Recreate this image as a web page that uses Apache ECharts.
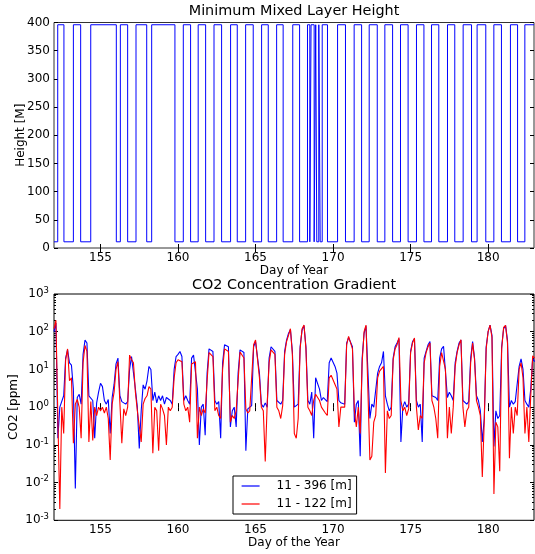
<!DOCTYPE html>
<html><head><meta charset="utf-8">
<script src="https://cdn.jsdelivr.net/npm/echarts@6/dist/echarts.min.js"></script>
<style>html,body{margin:0;padding:0;background:#fff}#c{width:535px;height:554px}</style>
</head><body><div id="c"></div><script>
// ---------- data ----------
const dayTicks = [155, 160, 165, 170, 175, 180];
const dayMin = 152, dayMax = 182.96;

// Minimum mixed layer height: day at which each level starts, and the level
const mlhDays = [152.0, 152.24, 152.64, 153.25, 153.72, 154.37, 156.02, 156.28, 156.75, 157.29,
  157.98, 158.3, 159.8, 160.34, 160.81, 161.3, 161.78, 162.32, 162.81, 163.39,
  163.82, 164.36, 164.85, 165.39, 165.82, 166.36, 166.78, 167.4, 167.84, 168.35,
  168.5, 168.58, 168.78, 168.88, 168.95, 169.08, 169.17, 169.3, 169.64, 170.29,
  170.8, 171.36, 171.84, 172.33, 172.85, 173.34, 173.84, 174.35, 174.84, 175.38,
  175.86, 176.35, 176.82, 177.38, 177.85, 178.39, 178.93, 179.29, 179.85, 180.37,
  180.86, 181.44, 181.9, 182.37, 182.96];
const mlhLevels = [11, 396, 11, 396, 11, 396, 11, 396, 11, 396,
  11, 396, 11, 396, 11, 396, 11, 396, 11, 396,
  11, 396, 11, 396, 11, 396, 11, 396, 11, 396,
  11, 396, 11, 396, 11, 396, 11, 396, 11, 396,
  11, 396, 11, 396, 11, 396, 11, 396, 11, 396,
  11, 396, 11, 396, 11, 396, 11, 396, 11, 396,
  11, 396, 11, 396, 396];

// CO2 concentration gradient, sampled every 3 hours from day 152
const co2Start = 152, co2Step = 0.125;
const co2Blue = [
  100,170,0.15,1.0,1.1,2.0,20,33,
  15,13,3,0.007,1.8,2.2,1.2,25,
  60,50,2,1.8,1.5,0.15,1.3,2.5,
  4.3,3.5,1.5,1.2,1.6,0.2,1.8,4,
  14,20,2,1.4,1.5,1.2,1.4,10,
  22,20,3,1.0,0.08,0.8,3.9,3,
  5,12,10,1.5,2.5,1.3,2.0,1.5,
  2.0,1.2,1.8,1.6,1.5,1.2,10,22,
  25,30,22,1.5,2,1.5,1.2,20,
  24,25,3,0.1,1.0,1.2,0.18,8,
  35,37,30,1.5,1.2,1.4,0.15,15,
  45,47,40,0.3,0.8,1.0,0.3,8,
  33,33,28,0.07,0.9,1.0,1.1,40,
  55,50,8,1.2,1.0,1.3,1.0,20,
  40,38,30,1.5,1.4,1.2,1.5,30,
  60,90,115,30,1.0,0.9,1.2,40,
  110,145,40,1.5,1.2,2.5,0.15,6,
  6.5,3,1.5,1.8,1.6,1.4,15,20,
  18,12,8,1.5,1.3,1.4,1.2,50,
  70,70,40,0.4,1.2,1.5,0.05,20,
  90,140,130,0.5,1.2,1.0,1.1,8,
  12,15,30,2,1.2,0.8,1.0,20,
  40,50,65,0.12,1.0,1.4,1.0,1.2,
  30,55,65,1.5,1.0,1.2,0.12,20,
  30,45,55,2,2.2,1.8,1.5,20,
  35,41,38,1.8,2.5,2.0,1.5,15,
  30,50,60,1.5,1.5,1.2,1.4,20,
  55,20,2,1.5,0.8,0.12,0.5,40,
  100,150,80,0.09,0.8,0.5,0.6,40,
  120,147,60,1.0,1.5,1.2,1.4,1.5,
  12,19,10,1.5,1.2,1.0,3,20,
  16];
const co2Red = [
  120,200,0.5,0.002,1.0,0.2,18,35,
  5,6,0.11,1.2,1.6,1.0,0.15,15,
  43,30,0.12,1.4,0.13,1.0,0.6,1.0,
  0.8,1.0,0.7,1.0,0.5,0.04,1.2,2.5,
  10,16,1.3,0.11,0.9,0.6,1.0,24,
  18,15,2.5,0.8,0.9,0.12,1.2,1.7,
  2,3.5,3,0.06,1.0,0.8,0.07,1.2,
  0.9,0.6,0.1,1.0,0.8,1.0,6,15,
  18,20,16,1.2,0.8,1.0,0.4,14,
  15,16,0.15,1.0,0.6,0.9,0.7,5,
  28,30,22,0.8,1.0,0.6,0.5,10,
  35,37,30,0.4,0.6,0.5,0.8,5,
  29,28,20,0.9,0.7,0.8,0.9,45,
  60,55,6,1.0,0.8,0.036,1.2,15,
  33,30,25,1.0,0.8,0.5,1.1,25,
  55,80,120,25,0.2,0.15,0.5,35,
  120,150,35,1.0,0.8,0.6,1.5,2.2,
  2,1.5,1.0,0.9,0.7,0.6,6,7,
  7,4,3,0.3,1.0,0.9,1.0,45,
  75,80,35,0.8,0.3,1.0,0.2,15,
  100,150,140,0.04,0.05,0.4,0.6,6,
  9,10,12,0.018,0.8,0.5,0.6,18,
  35,45,70,1.5,0.8,1.0,0.6,0.9,
  28,50,68,1.0,0.25,0.6,0.5,15,
  28,40,50,1.5,1.0,0.5,0.15,12,
  28,30,10,0.15,1.0,0.2,1.0,12,
  28,45,61,1.0,0.3,0.8,1.0,15,
  50,18,1.5,1.0,0.6,0.014,0.4,35,
  100,150,70,0.005,0.4,0.3,0.02,35,
  130,147,50,0.044,1.0,0.2,1.0,0.6,
  10,15,6,0.2,1.0,0.12,2,23,
  20];
const seriesNames = ['11 - 396 [m]', '11 - 122 [m]'];
const co2Min = 0.001, co2Max = 1000;

// ---------- chart ----------
const FONT = 'DejaVu Sans';
const txt = { fontFamily: FONT, fontSize: 12, color: '#000' };
const tickStyle = { show: true, inside: true, length: 4, lineStyle: { color: '#000', width: 1 } };

// minor tick positions on the log axis (in decades, for a helper linear axis)
const minorPos = [];
for (let e = Math.log10(co2Min); e < Math.log10(co2Max); e++) {
  for (let k = 2; k <= 9; k++) minorPos.push(e + Math.log10(k));
}

function xPair(gridIndex, name) {
  return [
    { type: 'value', gridIndex, min: dayMin, max: dayMax, position: 'bottom',
      axisLine: { show: false }, splitLine: { show: false },
      axisTick: Object.assign({ customValues: dayTicks }, tickStyle),
      axisLabel: Object.assign({ show: true, customValues: dayTicks, margin: 4 }, txt),
      name, nameLocation: 'middle', nameGap: 17, nameMoveOverlap: false, nameTextStyle: txt },
    { type: 'value', gridIndex, min: dayMin, max: dayMax, position: 'top',
      axisLine: { show: false }, splitLine: { show: false },
      axisTick: Object.assign({ customValues: dayTicks }, tickStyle),
      axisLabel: { show: false } }
  ];
}

const logLabel = v => '{b|10}{s|' + Math.round(Math.log10(v)) + '}';

const option = {
  animation: false,
  backgroundColor: '#fff',
  textStyle: { fontFamily: FONT },
  grid: [
    { left: 54, right: 1, top: 22.5, height: 225.5, show: true, borderColor: '#333', borderWidth: 1, backgroundColor: 'transparent' },
    { left: 54, right: 1, top: 294, height: 226.3, show: true, borderColor: '#000', borderWidth: 1, backgroundColor: 'transparent' }
  ],
  xAxis: [].concat(xPair(0, 'Day of Year'), xPair(1, 'Day of the Year')),
  yAxis: [
    { type: 'value', gridIndex: 0, min: 0, max: 400, interval: 50, position: 'left',
      axisLine: { show: false }, splitLine: { show: false }, axisTick: tickStyle,
      axisLabel: Object.assign({ margin: 4 }, txt),
      name: 'Height [M]', nameLocation: 'middle', nameRotate: 90, nameGap: 27, nameMoveOverlap: false, nameTextStyle: txt },
    { type: 'value', gridIndex: 0, min: 0, max: 400, interval: 50, position: 'right',
      axisLine: { show: false }, splitLine: { show: false }, axisTick: tickStyle, axisLabel: { show: false } },
    { type: 'log', logBase: 10, gridIndex: 1, min: co2Min, max: co2Max, splitNumber: 6, position: 'left',
      axisLine: { show: false }, splitLine: { show: false }, axisTick: tickStyle,
      axisLabel: { margin: 5, formatter: logLabel, rich: {
        b: { fontFamily: FONT, fontSize: 12, color: '#000', lineHeight: 16 },
        s: { fontFamily: FONT, fontSize: 8.5, color: '#000', lineHeight: 9, verticalAlign: 'top' } } },
      name: 'CO2 [ppm]', nameLocation: 'middle', nameRotate: 90, nameGap: 34, nameMoveOverlap: false, nameTextStyle: txt },
    { type: 'log', logBase: 10, gridIndex: 1, min: co2Min, max: co2Max, splitNumber: 6, position: 'right',
      axisLine: { show: false }, splitLine: { show: false }, axisTick: tickStyle, axisLabel: { show: false } },
    { type: 'value', gridIndex: 1, min: Math.log10(co2Min), max: Math.log10(co2Max), position: 'left',
      axisLine: { show: false }, splitLine: { show: false }, axisLabel: { show: false },
      axisTick: { show: true, inside: true, length: 2, customValues: minorPos, lineStyle: { color: '#000', width: 1 } } },
    { type: 'value', gridIndex: 1, min: Math.log10(co2Min), max: Math.log10(co2Max), position: 'right',
      axisLine: { show: false }, splitLine: { show: false }, axisLabel: { show: false },
      axisTick: { show: true, inside: true, length: 2, customValues: minorPos, lineStyle: { color: '#000', width: 1 } } }
  ],
  legend: {
    data: seriesNames, orient: 'vertical', left: 233, top: 476,
    itemWidth: 18, itemHeight: 12, itemGap: 6, padding: [4, 5, 4, 8],
    borderColor: '#000', borderWidth: 1, backgroundColor: '#fff', borderRadius: 0,
    itemStyle: { opacity: 0 },
    lineStyle: { width: 1.2 },
    textStyle: { fontFamily: FONT, fontSize: 12, color: '#000', padding: [0, 0, 0, 12] }
  },
  graphic: [
    { type: 'text', x: 294, y: 11.5, style: { text: 'Minimum Mixed Layer Height', fontFamily: FONT, fontSize: 14.4, fill: '#000', align: 'center', verticalAlign: 'middle' } },
    { type: 'text', x: 294, y: 285, style: { text: 'CO2 Concentration Gradient', fontFamily: FONT, fontSize: 14.4, fill: '#000', align: 'center', verticalAlign: 'middle' } }
  ],
  series: [
    { type: 'line', xAxisIndex: 0, yAxisIndex: 0, step: 'end', symbol: 'none',
      data: mlhDays.map((d, i) => [d, mlhLevels[i]]),
      lineStyle: { color: '#0000ff', width: 1 }, itemStyle: { color: '#0000ff' } },
    { name: seriesNames[0], type: 'line', xAxisIndex: 2, yAxisIndex: 2, symbol: 'none',
      data: co2Blue.map((v, i) => [co2Start + i * co2Step, v]),
      lineStyle: { color: '#0000ff', width: 1.1 }, itemStyle: { color: '#0000ff' } },
    { name: seriesNames[1], type: 'line', xAxisIndex: 2, yAxisIndex: 2, symbol: 'none',
      data: co2Red.map((v, i) => [co2Start + i * co2Step, v]),
      lineStyle: { color: '#ff0000', width: 1.1 }, itemStyle: { color: '#ff0000' } }
  ]
};
const chart = echarts.init(document.getElementById('c'), null, { renderer: 'canvas' });
chart.setOption(option);
</script></body></html>
